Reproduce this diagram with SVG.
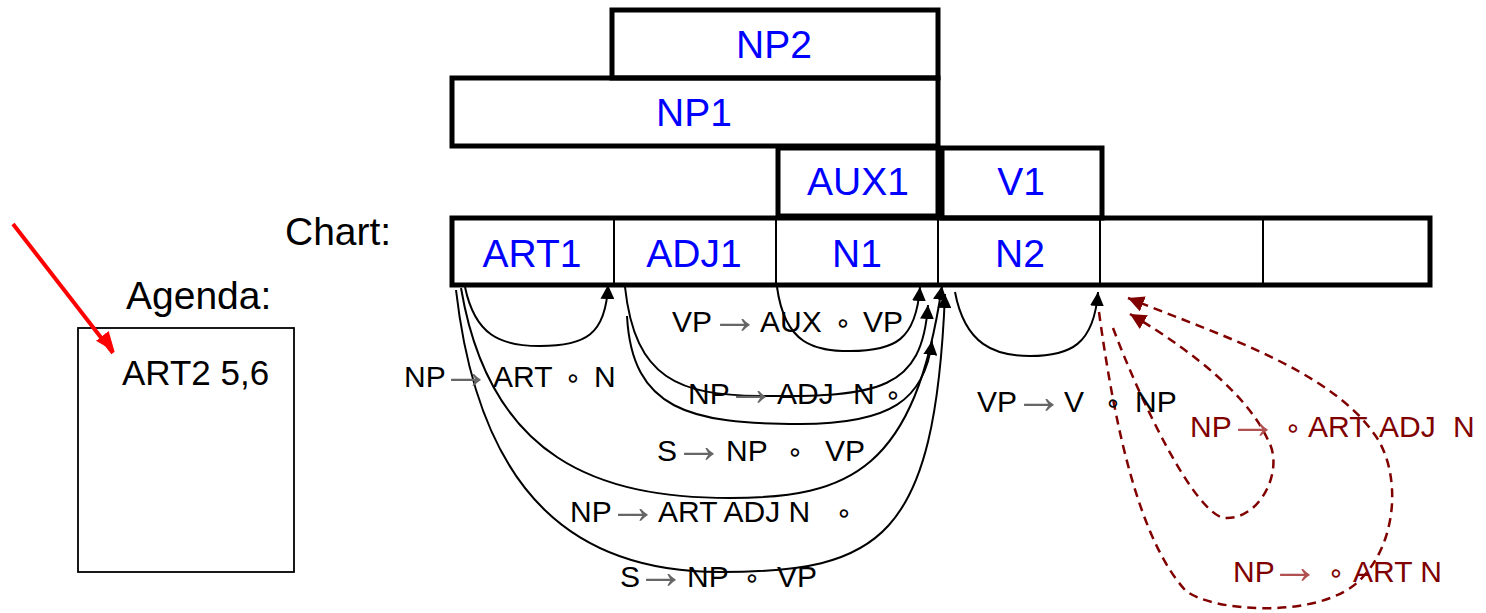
<svg xmlns="http://www.w3.org/2000/svg" width="1486" height="613" viewBox="0 0 1486 613">
<defs>
<style>
text{font-family:"Liberation Sans",Arial,"DejaVu Sans",sans-serif;}
.box{fill:none;stroke:#000;stroke-width:5;}
.div{stroke:#000;stroke-width:2;}
.blue{fill:#0000ff;font-size:39px;text-anchor:middle;}
.big{fill:#000;font-size:39px;}
.lbl{fill:#000;font-size:30px;}
.red{fill:#800000;font-size:30px;}
.arr{fill:#666;text-anchor:middle;font-size:50px;}
.redarr{fill:#b05050;text-anchor:middle;font-size:50px;}
.ring{font-family:"DejaVu Sans",sans-serif;text-anchor:middle;font-size:27px;}
.edge{fill:none;stroke:#000;stroke-width:2;marker-end:url(#ah);}
.dash{fill:none;stroke:#800000;stroke-width:2.5;stroke-dasharray:9 6;marker-end:url(#rh);}
</style>
<marker id="ah" viewBox="0 0 10 10" refX="10" refY="5" markerUnits="userSpaceOnUse" markerWidth="14" markerHeight="14" orient="auto">
<path d="M0,0 L10,5 L0,10 z" fill="#000"/>
</marker>
<marker id="rh" viewBox="0 0 10 10" refX="10" refY="5" markerUnits="userSpaceOnUse" markerWidth="16" markerHeight="16" orient="auto">
<path d="M0,0 L10,5 L0,10 z" fill="#800000"/>
</marker>
<marker id="redh" viewBox="0 0 10 10" refX="10" refY="5" markerUnits="userSpaceOnUse" markerWidth="20" markerHeight="20" orient="auto">
<path d="M0,0 L10,4 L0,8 z" fill="#ff0000"/>
</marker>
</defs>
<rect width="1486" height="613" fill="#fff"/>

<g id="np2"><rect class="box" x="612" y="10" width="326" height="68"/><text class="blue" x="774" y="58">NP2</text></g>
<g id="np1"><rect class="box" x="452" y="78" width="486" height="68"/><text class="blue" x="694" y="126">NP1</text></g>
<g id="aux1"><rect class="box" x="778" y="148" width="160" height="68"/><text class="blue" x="858" y="195">AUX1</text></g>
<g id="v1"><rect class="box" x="942" y="148" width="160" height="70"/><text class="blue" x="1021" y="195">V1</text></g>

<g id="chart">
<rect class="box" x="452" y="218" width="978" height="67"/>
<line class="div" x1="614" y1="218" x2="614" y2="285"/>
<line class="div" x1="776" y1="218" x2="776" y2="285"/>
<line class="div" x1="938" y1="218" x2="938" y2="285"/>
<line class="div" x1="1100" y1="218" x2="1100" y2="285"/>
<line class="div" x1="1263" y1="218" x2="1263" y2="285"/>
<text class="blue" x="532" y="267">ART1</text>
<text class="blue" x="694" y="267">ADJ1</text>
<text class="blue" x="857" y="267">N1</text>
<text class="blue" x="1020" y="267">N2</text>
</g>
<text class="big" x="285" y="245">Chart:</text>

<g id="agenda">
<text class="big" x="126" y="309">Agenda:</text>
<rect x="78" y="328" width="216" height="244" fill="none" stroke="#000" stroke-width="1.8"/>
<text x="122" y="385" font-size="35" fill="#000">ART2 5,6</text>
<line x1="13" y1="224" x2="113" y2="353" stroke="#ff0000" stroke-width="4" marker-end="url(#redh)"/>
</g>

<g id="connectors">
<path class="edge" d="M465,287 C475,335 500,346 540,346 C585,346 606,335 608,285"/>
<path class="edge" d="M777,287 C785,345 815,351 850,351 C895,351 916,340 920,287"/>
<path class="edge" d="M625,287 C635,380 680,395 760,396 C880,397 922,390 928,305"/>
<path class="edge" d="M627,316 C632,410 690,424 800,424 C890,424 925,400 932,341"/>
<path class="edge" d="M461,288 C490,460 600,498 730,498 C850,498 915,470 942,286"/>
<path class="edge" d="M456,290 C480,500 580,572 720,572 C880,572 935,540 945,294"/>
<path class="edge" d="M955,292 C965,345 995,356 1030,356 C1070,356 1094,345 1098,292"/>
<path class="dash" d="M1099,312 C1115,430 1140,540 1185,590 C1210,612 1320,620 1360,580 C1400,540 1400,470 1375,435 C1330,370 1220,335 1128,298"/>
<path class="dash" d="M1113,328 C1140,400 1195,515 1225,518 C1260,520 1285,470 1268,440 C1250,400 1200,355 1130,314"/>
</g>

<g id="labels">
<text class="lbl" y="332"><tspan x="672">VP</tspan><tspan class="arr" x="735" dy="1">→</tspan><tspan x="760" dy="-1">AUX</tspan><tspan class="ring" x="843">∘</tspan><tspan x="863">VP</tspan></text>
<text class="lbl" y="387"><tspan x="404">NP</tspan><tspan class="arr" x="466" dy="1">→</tspan><tspan x="493" dy="-1">ART</tspan><tspan class="ring" x="573">∘</tspan><tspan x="594">N</tspan></text>
<text class="lbl" y="404"><tspan x="688">NP</tspan><tspan class="arr" x="751" dy="1">→</tspan><tspan x="777" dy="-1">ADJ</tspan><tspan x="853">N</tspan><tspan class="ring" x="893">∘</tspan></text>
<text class="lbl" y="461"><tspan x="657">S</tspan><tspan class="arr" x="699" dy="1">→</tspan><tspan x="726" dy="-1">NP</tspan><tspan class="ring" x="795">∘</tspan><tspan x="825">VP</tspan></text>
<text class="lbl" y="522"><tspan x="570">NP</tspan><tspan class="arr" x="633" dy="1">→</tspan><tspan x="658" dy="-1">ART ADJ N</tspan><tspan class="ring" x="844">∘</tspan></text>
<text class="lbl" y="587"><tspan x="620">S</tspan><tspan class="arr" x="661" dy="1">→</tspan><tspan x="687" dy="-1">NP</tspan><tspan class="ring" x="752">∘</tspan><tspan x="777">VP</tspan></text>
<text class="lbl" y="412"><tspan x="977">VP</tspan><tspan class="arr" x="1039" dy="1">→</tspan><tspan x="1064" dy="-1">V</tspan><tspan class="ring" x="1113">∘</tspan><tspan x="1135">NP</tspan></text>
<text class="red" y="437"><tspan x="1190">NP</tspan><tspan class="redarr" x="1253" dy="1">→</tspan><tspan class="ring" x="1293" dy="-1">∘</tspan><tspan x="1308">ART</tspan><tspan x="1379">ADJ</tspan><tspan x="1453">N</tspan></text>
<text class="red" y="582"><tspan x="1233">NP</tspan><tspan class="redarr" x="1295" dy="1">→</tspan><tspan class="ring" x="1336" dy="-1">∘</tspan><tspan x="1353">ART N</tspan></text>
</g>
</svg>
